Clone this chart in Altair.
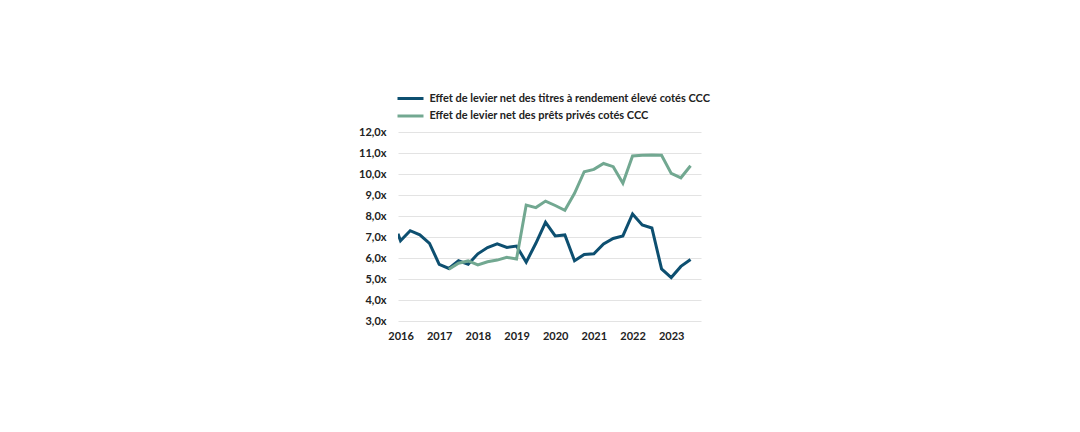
import altair as alt
import pandas as pd

# Period positions (decimal years): a partial first point, then quarterly from 2016
periods = [2015.935] + [2016 + 0.25 * i for i in range(31)]

high_yield = [7.15, 6.82, 7.3, 7.1, 6.7, 5.7, 5.5, 5.87, 5.7, 6.2, 6.5, 6.67, 6.5, 6.57,
              5.8, 6.7, 7.7, 7.05, 7.1, 5.87, 6.17, 6.2, 6.67, 6.93, 7.05, 8.1, 7.57,
              7.43, 5.48, 5.07, 5.6, 5.93]

private_loans = [None] * 6 + [5.46, 5.75, 5.86, 5.67, 5.82, 5.9, 6.03, 5.95, 8.52, 8.4,
                              8.71, 8.5, 8.27, 9.08, 10.11, 10.22, 10.5, 10.35, 9.56,
                              10.86, 10.89, 10.9, 10.89, 10.03, 9.82, 10.39]

series_names = [
    "Effet de levier net des titres à rendement élevé cotés CCC",
    "Effet de levier net des prêts privés cotés CCC",
]
series_colors = ["#0d4f70", "#72a891"]
year_ticks = [2016, 2017, 2018, 2019, 2020, 2021, 2022, 2023]
y_ticks = [3, 4, 5, 6, 7, 8, 9, 10, 11, 12]

rows = []
for p, v in zip(periods, high_yield):
    rows.append({"t": p, "v": v, "s": series_names[0]})
for p, v in zip(periods, private_loans):
    if v is not None:
        rows.append({"t": p, "v": v, "s": series_names[1]})
df = pd.DataFrame(rows)

FONT = "Lato"

chart = alt.Chart(df).mark_line(strokeWidth=3, clip=True).encode(
    x=alt.X("t:Q",
            scale=alt.Scale(domain=[2015.935, 2023.77], nice=False, zero=False),
            axis=alt.Axis(values=year_ticks, format="d", title=None, grid=False,
                          ticks=False, domain=False, labelPadding=9,
                          labelFont=FONT, labelFontSize=11, labelFontWeight="bold",
                          labelColor="#222222")),
    y=alt.Y("v:Q",
            scale=alt.Scale(domain=[3, 12], nice=False, zero=False),
            axis=alt.Axis(values=y_ticks, title=None, grid=True, gridColor="#e3e3e3",
                          gridWidth=1, ticks=False, domain=False, labelPadding=12,
                          labelExpr="replace(format(datum.value, '.1f'), '.', ',') + 'x'",
                          labelFont=FONT, labelFontSize=11, labelFontWeight="bold",
                          labelColor="#222222")),
    color=alt.Color("s:N",
                    scale=alt.Scale(domain=series_names, range=series_colors),
                    sort=series_names,
                    legend=alt.Legend(title=None, orient="none", legendX=4.5, legendY=-41.5,
                                      direction="vertical",
                                      symbolType="M-2,0H2", symbolSize=169,
                                      symbolStrokeWidth=3, labelOffset=11,
                                      rowPadding=3.5, padding=0,
                                      labelFont=FONT, labelFontSize=11,
                                      labelFontWeight="bold", labelColor="#222222",
                                      labelLimit=500)),
).properties(
    width=303, height=189,
    autosize=alt.AutoSizeParams(type="none"),
    padding={"left": 390, "top": 124, "right": 120, "bottom": 20},
).configure_view(stroke=None)

chart.save("out.html", embed_options={"renderer": "svg", "actions": False})
